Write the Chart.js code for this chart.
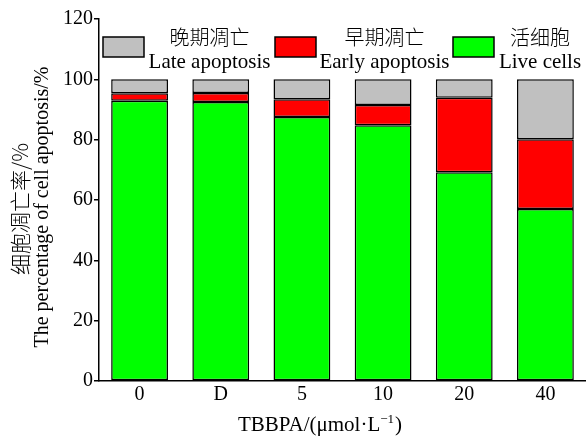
<!DOCTYPE html>
<html>
<head>
<meta charset="utf-8">
<script src="https://cdn.jsdelivr.net/npm/chart.js@4.4.1/dist/chart.umd.min.js"></script>
<style>
  html, body { margin: 0; padding: 0; background: #fff; overflow: hidden; }
  #wrap { width: 586px; height: 441px; position: relative; }
</style>
</head>
<body>
<div id="wrap"><canvas id="c" width="586" height="441"></canvas></div>
<script>
// TBBPA concentrations (D = solvent control)
const categories = ['0', 'D', '5', '10', '20', '40'];
// percentage of cells in each state
const liveCells      = [92.9, 92.5, 87.5, 84.8, 69.2, 57.0];
const earlyApoptosis = [2.5, 3.0, 5.9, 6.7, 24.7, 23.1];
const lateApoptosis  = [4.6, 4.5, 6.6, 8.5, 6.1, 19.9];
const yTicks = [0, 20, 40, 60, 80, 100, 120];

const seriesLabels = [
  { zh: '晚期凋亡', en: 'Late apoptosis', color: '#c0c0c0' },
  { zh: '早期凋亡', en: 'Early apoptosis', color: '#ff0000' },
  { zh: '活细胞', en: 'Live cells', color: '#00ff00' }
];

const SERIF = '"Liberation Serif", "Times New Roman", serif';
const CJK = '"Noto Sans CJK SC", sans-serif';

// Two-line legend across the top of the plot, plus axis titles
const annotations = {
  id: 'annotations',
  afterDraw(chart) {
    const ctx = chart.ctx;
    ctx.save();

    // legend
    const boxes = [103, 275, 453];
    const boxW = 41, boxH = 20, boxTop = 37;
    seriesLabels.forEach((s, i) => {
      const x = boxes[i];
      ctx.fillStyle = s.color;
      ctx.fillRect(x, boxTop, boxW, boxH);
      ctx.strokeStyle = '#000';
      ctx.lineWidth = 1.5;
      ctx.strokeRect(x, boxTop, boxW, boxH);
      const gapEnd = i < 2 ? boxes[i + 1] : 586;
      const cx = (x + boxW + gapEnd) / 2;
      ctx.fillStyle = '#000';
      ctx.textAlign = 'center';
      ctx.textBaseline = 'middle';
      ctx.font = '300 20px ' + CJK;
      ctx.fillText(s.zh, cx, 37);
      ctx.textBaseline = 'alphabetic';
      ctx.font = '21px ' + SERIF;
      ctx.fillText(s.en, cx, 68);
    });

    // y-axis title (two lines, rotated)
    ctx.save();
    ctx.translate(20, 209);
    ctx.rotate(-Math.PI / 2);
    ctx.textAlign = 'center';
    ctx.textBaseline = 'middle';
    ctx.font = '300 21px ' + CJK;
    ctx.fillStyle = '#000';
    ctx.fillText('细胞凋亡率/%', 0, 0);
    ctx.restore();

    ctx.save();
    ctx.translate(43, 207);
    ctx.rotate(-Math.PI / 2);
    ctx.textAlign = 'center';
    ctx.textBaseline = 'middle';
    ctx.font = '20px ' + SERIF;
    ctx.fillStyle = '#000';
    ctx.fillText('The percentage of cell apoptosis/%', 0, 0);
    ctx.restore();

    // x-axis title with superscript
    const main = 'TBBPA/(μmol·L';
    const sup = '−1';
    const tail = ')';
    ctx.font = '21px ' + SERIF;
    const wMain = ctx.measureText(main).width;
    const wTail = ctx.measureText(tail).width;
    ctx.font = '13px ' + SERIF;
    const wSup = ctx.measureText(sup).width;
    const total = wMain + wSup + wTail + 1;
    let x = 320 - total / 2;
    const base = 431;
    ctx.textAlign = 'left';
    ctx.textBaseline = 'alphabetic';
    ctx.fillStyle = '#000';
    ctx.font = '21px ' + SERIF;
    ctx.fillText(main, x, base);
    x += wMain;
    ctx.font = '13px ' + SERIF;
    ctx.fillText(sup, x, base - 8);
    x += wSup + 1;
    ctx.font = '21px ' + SERIF;
    ctx.fillText(tail, x, base);

    ctx.restore();
  }
};

const barStyle = { borderColor: '#000', borderWidth: 1.5, borderSkipped: false, barPercentage: 0.7, categoryPercentage: 1.0 };

new Chart(document.getElementById('c'), {
  type: 'bar',
  data: {
    labels: categories,
    datasets: [
      Object.assign({ label: 'Live cells', data: liveCells, backgroundColor: '#00ff00' }, barStyle),
      Object.assign({ label: 'Early apoptosis', data: earlyApoptosis, backgroundColor: '#ff0000' }, barStyle),
      Object.assign({ label: 'Late apoptosis', data: lateApoptosis, backgroundColor: '#c0c0c0' }, barStyle)
    ]
  },
  options: {
    responsive: false,
    animation: false,
    devicePixelRatio: 1,
    layout: { padding: { top: 19, right: 0, left: 0, bottom: 0 } },
    plugins: { legend: { display: false }, tooltip: { enabled: false } },
    scales: {
      x: {
        stacked: true,
        offset: true,
        grid: { display: false, drawTicks: false },
        border: { display: true, color: '#000', width: 1.5 },
        ticks: { color: '#000', font: { family: SERIF, size: 20 }, padding: 2 },
        afterFit(scale) { scale.height = 60; }
      },
      y: {
        stacked: true,
        min: 0,
        max: 120,
        afterBuildTicks(scale) { scale.ticks = yTicks.map(v => ({ value: v })); },
        grid: { display: true, drawOnChartArea: false, drawTicks: true, tickLength: 5, color: '#000', lineWidth: 1.5 },
        border: { display: true, color: '#000', width: 1.5 },
        ticks: { color: '#000', font: { family: SERIF, size: 20 }, padding: 1 },
        afterFit(scale) { scale.width = 99; }
      }
    }
  },
  plugins: [annotations]
});
</script>
</body>
</html>
